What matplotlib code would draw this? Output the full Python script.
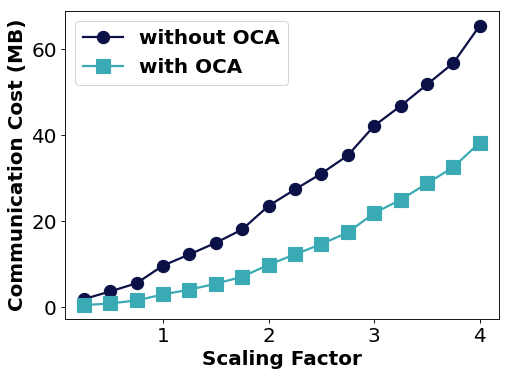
import matplotlib
matplotlib.use("Agg")
import matplotlib.pyplot as plt

# Data
scaling = [0.25, 0.5, 0.75, 1.0, 1.25, 1.5, 1.75, 2.0,
           2.25, 2.5, 2.75, 3.0, 3.25, 3.5, 3.75, 4.0]
without_oca = [1.9, 3.7, 5.6, 9.7, 12.3, 15.0, 18.1, 23.6,
               27.4, 31.1, 35.3, 42.2, 46.8, 51.8, 56.8, 65.5]
with_oca = [0.5, 0.9, 1.6, 3.0, 4.1, 5.5, 7.1, 9.9,
            12.3, 14.7, 17.4, 21.9, 25.0, 28.8, 32.6, 38.3]

fig, ax = plt.subplots(figsize=(6.375, 4.7125), dpi=80)
fig.subplots_adjust(left=0.127, right=0.978, top=0.971, bottom=0.154)

ax.plot(scaling, without_oca, color='#0b1146', marker='o', markersize=11,
        lw=2, label='without OCA')
ax.plot(scaling, with_oca, color='#3aabb5', marker='s', markersize=12,
        lw=2, label='with OCA')

ax.set_xlabel('Scaling Factor', fontsize=18, fontweight='bold')
ax.set_ylabel('Communication Cost (MB)', fontsize=18, fontweight='bold')
ax.tick_params(labelsize=18)
ax.set_xticks([1, 2, 3, 4])
ax.set_yticks([0, 20, 40, 60])
ax.set_ylim(-2.7, 68.9)
ax.set_xlim(0.07, 4.18)
ax.legend(loc='upper left', prop={'size': 18, 'weight': 'bold'})

fig.savefig('out.png')
